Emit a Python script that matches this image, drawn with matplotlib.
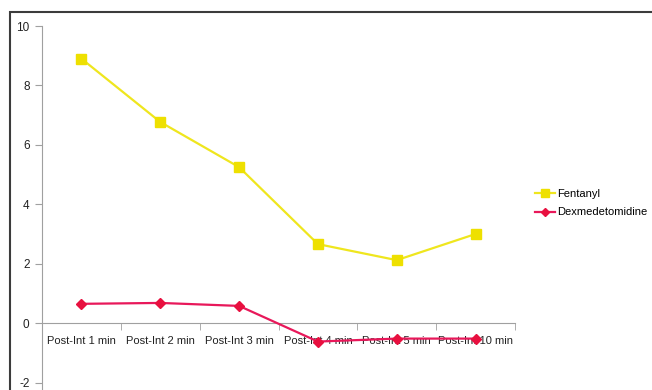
import matplotlib.pyplot as plt
from matplotlib.patches import Rectangle
from matplotlib.ticker import FixedLocator, NullFormatter

plt.rcParams['font.family'] = ['Liberation Sans', 'DejaVu Sans']
plt.rcParams['axes.unicode_minus'] = False

categories = ['Post-Int 1 min', 'Post-Int 2 min', 'Post-Int 3 min',
              'Post-Int 4 min', 'Post-Int 5 min', 'Post-Int 10 min']
fentanyl = [8.9, 6.77, 5.25, 2.66, 2.12, 3.0]
dexmed = [0.65, 0.68, 0.58, -0.62, -0.52, -0.52]

fig = plt.figure(figsize=(6.52, 3.90), dpi=100)
ax = fig.add_axes([42 / 652, 0, (515 - 42) / 652, 1 - 26 / 390])

x = list(range(len(categories)))
ax.plot(x, fentanyl, color='#EFE61E', lw=1.6, marker='s', ms=6.5,
        mfc='#EEE000', mec='#EEE000', label='Fentanyl', clip_on=False, zorder=3)
ax.plot(x, dexmed, color='#E8185A', lw=1.6, marker='D', ms=5,
        mfc='#E8103F', mec='#E8103F', label='Dexmedetomidine', clip_on=False, zorder=3)

ax.set_xlim(-0.5, 5.5)
ax.set_ylim(-2.25, 10)
ax.set_yticks([-2, 0, 2, 4, 6, 8, 10])

for s in ['top', 'right']:
    ax.spines[s].set_visible(False)
ax.spines['left'].set_color('#A0A0A0')
ax.spines['bottom'].set_position(('data', 0))
ax.spines['bottom'].set_color('#A0A0A0')

ax.set_xticks(x)
ax.set_xticklabels(categories)
ax.xaxis.set_minor_locator(FixedLocator([i - 0.5 for i in range(len(categories) + 1)]))
ax.xaxis.set_minor_formatter(NullFormatter())
ax.tick_params(axis='x', which='major', length=0, pad=9, labelsize=8, labelcolor='#222222')
ax.tick_params(axis='x', which='minor', length=5, color='#A0A0A0', direction='out')
ax.tick_params(axis='y', length=5, color='#A0A0A0', labelsize=8.5, labelcolor='#222222', pad=4)

ax.legend(loc='center left', bbox_to_anchor=(525 / 652, 1 - 203 / 390),
          bbox_transform=fig.transFigure, frameon=False, fontsize=8,
          handlelength=1.8, handletextpad=0.2, labelspacing=0.8, markerscale=0.8)

frame = Rectangle((10 / 652, -0.1), 1.2, 1 - 12 / 390 + 0.1, transform=fig.transFigure,
                  fill=False, ec='#3C3C3C', lw=1.5, clip_on=False)
fig.patches.append(frame)

fig.savefig('out.png', dpi=100)
